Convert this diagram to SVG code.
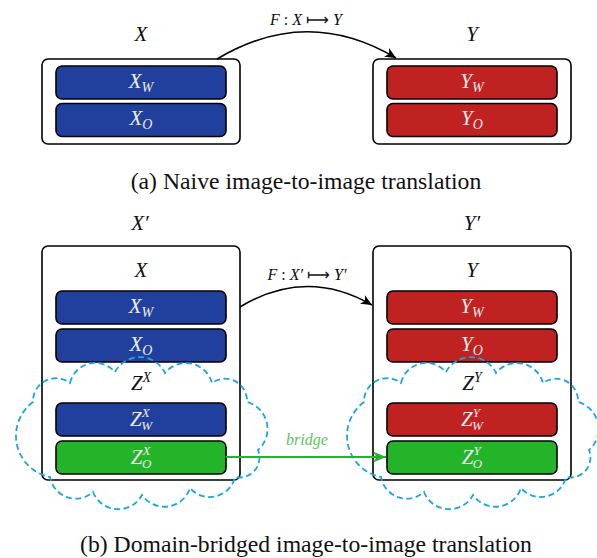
<svg xmlns="http://www.w3.org/2000/svg" width="597" height="558" viewBox="0 0 597 558">
<style>
.outer{fill:#fff;stroke:#000;stroke-width:1.6}
.bl{fill:#21409e;stroke:#000;stroke-width:1.6}
.rd{fill:#c02222;stroke:#000;stroke-width:1.6}
.gr{fill:#24b42a;stroke:#000;stroke-width:1.6}
.m{font-family:"Liberation Serif",serif;font-style:italic;font-size:21px;fill:#111;text-anchor:middle}
.w{fill:#ececec}
.s{font-size:14px}
.ss{font-size:13px}
.lab{font-family:"Liberation Serif",serif;font-size:16px;fill:#111;text-anchor:middle}
.cap{font-family:"Liberation Serif",serif;font-size:23.7px;fill:#111;text-anchor:middle}
.cloud{fill:none;stroke:#1aa6e4;stroke-width:1.8;stroke-dasharray:6 3.5}
.arr{fill:none;stroke:#000;stroke-width:1.6}
</style>
<defs>
<marker id="ah" markerUnits="userSpaceOnUse" markerWidth="12" markerHeight="10" refX="11" refY="5" orient="auto" viewBox="0 0 12 10">
<path d="M0,0 L11,5 L0,10 L3,5 z" fill="#000"/>
</marker>
<marker id="ahg" markerUnits="userSpaceOnUse" markerWidth="14" markerHeight="11" refX="13" refY="5.5" orient="auto" viewBox="0 0 14 11">
<path d="M0,0 L13,5.5 L0,11 L3.5,5.5 z" fill="#24b42a"/>
</marker>
<path id="cloudL" class="cloud" d="M70,383 A26,26 0 0 1 115,372 A28,28 0 0 1 165,373 A27,27 0 0 1 212,383 A22,22 0 0 1 247,402 A28,28 0 0 1 258,450 A20,20 0 0 1 235,477 A26,26 0 0 1 190,488 A27,27 0 0 1 142,495 A27,27 0 0 1 93,492 A26,26 0 0 1 50,477 A42,42 0 0 1 33,402 A23,23 0 0 1 70,383 Z"/>
</defs>

<!-- Panel (a) -->
<g id="a-X">
<text class="m" x="141" y="41">X</text>
<rect class="outer" x="42" y="59" width="198" height="85" rx="6"/>
<g id="a-XW"><rect class="bl" x="56" y="66" width="170" height="33" rx="6"/>
<text class="m w" x="141" y="88">X<tspan class="s" dy="4">W</tspan></text></g>
<g id="a-XO"><rect class="bl" x="56" y="103.5" width="170" height="33" rx="6"/>
<text class="m w" x="141" y="125">X<tspan class="s" dy="4">O</tspan></text></g>
</g>
<g id="a-Y">
<text class="m" x="472" y="41">Y</text>
<rect class="outer" x="373" y="59" width="198" height="85" rx="6"/>
<g id="a-YW"><rect class="rd" x="387" y="66" width="170" height="33" rx="6"/>
<text class="m w" x="472" y="88">Y<tspan class="s" dy="4">W</tspan></text></g>
<g id="a-YO"><rect class="rd" x="387" y="103.5" width="170" height="33" rx="6"/>
<text class="m w" x="472" y="125">Y<tspan class="s" dy="4">O</tspan></text></g>
</g>
<text class="cap" x="306" y="189">(a) Naive image-to-image translation</text>

<!-- Panel (b) -->
<g id="b-Xp">
<text class="m" x="140" y="230">X′</text>
<rect class="outer" x="42" y="246" width="198" height="234" rx="6"/>
<text class="m" x="141" y="277">X</text>
<g id="b-XW"><rect class="bl" x="56" y="291" width="170" height="33" rx="6"/>
<text class="m w" x="141" y="313">X<tspan class="s" dy="4">W</tspan></text></g>
<g id="b-XO"><rect class="bl" x="56" y="329" width="170" height="33" rx="6"/>
<text class="m w" x="141" y="351">X<tspan class="s" dy="4">O</tspan></text></g>
<text class="m" x="141" y="390">Z<tspan class="s" dy="-8">X</tspan></text>
<g id="b-ZW"><rect class="bl" x="56" y="403" width="170" height="33" rx="6"/>
<text class="m w" x="141" y="426">Z<tspan class="ss" dy="-9">X</tspan><tspan class="ss" dx="-8.5" dy="13">W</tspan></text></g>
<g id="b-ZO"><rect class="gr" x="56" y="441" width="170" height="33" rx="6"/>
<text class="m w" x="141" y="464">Z<tspan class="ss" dy="-9">X</tspan><tspan class="ss" dx="-8.5" dy="13">O</tspan></text></g>
</g>
<g id="b-Yp">
<text class="m" x="472" y="230">Y′</text>
<rect class="outer" x="373" y="246" width="198" height="234" rx="6"/>
<text class="m" x="472" y="277">Y</text>
<g id="b-YW"><rect class="rd" x="387" y="291" width="170" height="33" rx="6"/>
<text class="m w" x="472" y="313">Y<tspan class="s" dy="4">W</tspan></text></g>
<g id="b-YO"><rect class="rd" x="387" y="329" width="170" height="33" rx="6"/>
<text class="m w" x="472" y="351">Y<tspan class="s" dy="4">O</tspan></text></g>
<text class="m" x="472" y="390">Z<tspan class="s" dy="-8">Y</tspan></text>
<g id="b-ZW2"><rect class="rd" x="387" y="403" width="170" height="33" rx="6"/>
<text class="m w" x="472" y="426">Z<tspan class="ss" dy="-9">Y</tspan><tspan class="ss" dx="-8" dy="13">W</tspan></text></g>
<g id="b-ZO2"><rect class="gr" x="387" y="441" width="170" height="33" rx="6"/>
<text class="m w" x="472" y="464">Z<tspan class="ss" dy="-9">Y</tspan><tspan class="ss" dx="-8" dy="13">O</tspan></text></g>
</g>

<g id="clouds">
<use href="#cloudL"/>
<use href="#cloudL" transform="translate(331,0)"/>
</g>

<g id="connectors">
<path class="arr" d="M217,59 Q307,5 396,58" marker-end="url(#ah)"/>
<text class="lab" x="306" y="25"><tspan font-style="italic">F</tspan> : <tspan font-style="italic">X</tspan> ⟼ <tspan font-style="italic">Y</tspan></text>
<path class="arr" d="M240,307 Q306,267 372,305" marker-end="url(#ah)"/>
<text class="lab" x="307" y="280"><tspan font-style="italic">F</tspan> : <tspan font-style="italic">X′</tspan> ⟼ <tspan font-style="italic">Y′</tspan></text>
<path d="M226,457 L386,457" fill="none" stroke="#24b42a" stroke-width="2" marker-end="url(#ahg)"/>
<text class="lab" x="307" y="445" font-style="italic" font-size="18" style="fill:#5cc45c">bridge</text>
</g>

<text class="cap" x="306" y="552">(b) Domain-bridged image-to-image translation</text>
</svg>
